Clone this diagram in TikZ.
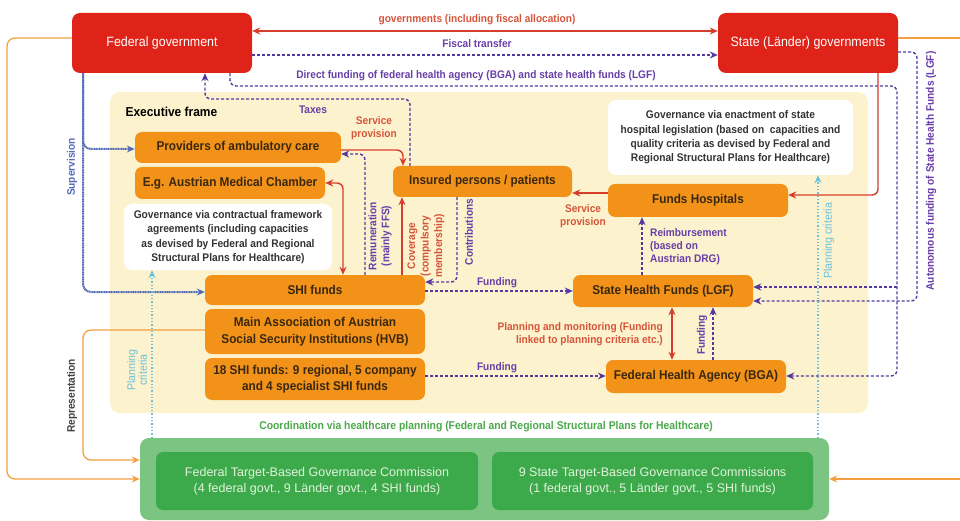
\documentclass[tikz,border=0pt]{standalone}
\usepackage{fontspec}
\setmainfont{Liberation Sans}[FakeStretch=0.92]
\newfontfamily\plainsans{Liberation Sans}
\usepackage{xcolor}
\usepackage{tikz}
\usetikzlibrary{arrows.meta}

\definecolor{govred}{RGB}{224,35,24}
\definecolor{boxorange}{RGB}{242,146,24}
\definecolor{boxtext}{RGB}{58,40,16}
\definecolor{framefill}{RGB}{252,243,206}
\definecolor{purp}{RGB}{84,58,160}
\definecolor{purptext}{RGB}{104,62,168}
\definecolor{redl}{RGB}{214,62,44}
\definecolor{redtext}{RGB}{214,84,58}
\definecolor{orangel}{RGB}{242,160,64}
\definecolor{supblue}{RGB}{84,108,184}
\definecolor{cyanl}{RGB}{108,192,220}
\definecolor{greenout}{RGB}{124,196,130}
\definecolor{greenin}{RGB}{60,170,74}
\definecolor{greentext}{RGB}{226,242,220}
\definecolor{greenlab}{RGB}{76,168,74}

\begin{document}
\begin{tikzpicture}[x=1pt,y=-1pt,>={Stealth[length=8pt,width=7pt]},
  govbox/.style={rounded corners=8pt,fill=govred,text=white,minimum width=180,minimum height=60,
    font=\fontsize{13.5}{15}\selectfont},
  box/.style={rounded corners=7pt,fill=boxorange,text=boxtext,inner sep=0pt,align=center,
    font=\bfseries\fontsize{12.8}{16.5}\selectfont},
  notebox/.style={rounded corners=8pt,fill=white,text=black!80,inner sep=0pt,align=center,
    font=\bfseries\fontsize{11.1}{14.3}\selectfont},
  commbox/.style={rounded corners=7pt,fill=greenin,text=greentext,inner sep=0pt,align=center,
    font=\plainsans\fontsize{12.5}{16}\selectfont},
  purpdash/.style={draw=purp,line width=1.4pt,dash pattern=on 3pt off 2pt,rounded corners=6pt},
  redline/.style={draw=redl,line width=1.4pt,rounded corners=6pt},
  orangeline/.style={draw=orangel,line width=1.3pt,rounded corners=8pt},
  supline/.style={draw=supblue,line width=2pt,dash pattern=on 1.2pt off 0.5pt,rounded corners=8pt},
  cyanline/.style={draw=cyanl,line width=1.3pt,dotted},
  purplab/.style={text=purptext,inner sep=1pt,align=center,font=\bfseries\fontsize{11}{13}\selectfont},
  redlab/.style={text=redtext,inner sep=1pt,align=center,font=\bfseries\fontsize{11}{13.5}\selectfont},
  cyanlab/.style={text=cyanl,inner sep=1pt,align=center,font=\fontsize{11.5}{10.5}\selectfont}]
\useasboundingbox (0,0) rectangle (960,521);

\node[fill=framefill,rounded corners=10pt,minimum width=758,minimum height=321] (EF) at (489,252.5) {};
\node[anchor=west,font=\bfseries\fontsize{13}{15}\selectfont] (EFL) at (122,112) {Executive frame};

\node[govbox] (FG) at (162,43) {Federal government};
\node[govbox] (SG) at (808,43) {State (Länder) governments};

\node[box,minimum width=206,minimum height=31] (PAC) at (238,147.5) {Providers of ambulatory care};
\node[box,minimum width=190,minimum height=32] (AMC) at (230,183) {E.g. Austrian Medical Chamber};
\node[notebox,minimum width=208,minimum height=66] (GCW) at (228,237)
  {Governance via contractual framework\\agreements (including capacities\\as devised by Federal and Regional\\Structural Plans for Healthcare)};
\node[box,minimum width=220,minimum height=30] (SHI) at (315,290) {SHI funds};
\node[box,minimum width=220,minimum height=45] (HVB) at (315,331.5) {Main Association of Austrian\\Social Security Institutions (HVB)};
\node[box,minimum width=220,minimum height=42] (SHIX) at (315,379) {18 SHI funds: 9 regional, 5 company\\and 4 specialist SHI funds};
\node[box,minimum width=179,minimum height=31] (INS) at (482.5,181.5) {Insured persons / patients};
\node[notebox,minimum width=245,minimum height=75] (GEL) at (730.5,137.5)
  {Governance via enactment of state\\hospital legislation (based on~ capacities and\\quality criteria as devised by Federal and\\Regional Structural Plans for Healthcare)};
\node[box,minimum width=180,minimum height=33] (FH) at (698,200.5) {Funds Hospitals};
\node[box,minimum width=180,minimum height=32] (LGF) at (663,291) {State Health Funds (LGF)};
\node[box,minimum width=180,minimum height=33] (BGA) at (696,376.5) {Federal Health Agency (BGA)};

\node[fill=greenout,rounded corners=9pt,minimum width=689,minimum height=82] (GO) at (484.5,479) {};
\node[commbox,minimum width=322,minimum height=58] (FTC) at (317,481)
  {Federal Target-Based Governance Commission\\(4 federal govt., 9 Länder govt., 4 SHI funds)};
\node[commbox,minimum width=321,minimum height=58] (STC) at (652.5,481)
  {9 State Target-Based Governance Commissions\\(1 federal govt., 5 Länder govt., 5 SHI funds)};
\node[text=greenlab,font=\bfseries\fontsize{11.3}{12}\selectfont] (CO) at (486,427)
  {Coordination via healthcare planning (Federal and Regional Structural Plans for Healthcare)};

\coordinate (J1) at (897,287);
\coordinate (RE1) at (960,38);
\coordinate (RE2) at (960,479);

% between the governments
\draw[redline,<->] (FG.east |- 0,31) -- (SG.west |- 0,31);
\node[redlab] (GFA) at (477,20) {governments (including fiscal allocation)};
\draw[purpdash,->] (FG.east |- 0,55) -- (SG.west |- 0,55);
\node[purplab] (FT) at (477,44) {Fiscal transfer};
\draw[purpdash,->] (FG.south -| 230,0) |- (897,86) |- (BGA.east |- 0,376);
\draw[purpdash,->] (J1) -- (LGF.east |- J1);
\node[purplab] (DF) at (476,76) {Direct funding of federal health agency (BGA) and state health funds (LGF)};
\draw[purpdash,->] (SG.east |- 0,52) -| (917,301) -- (LGF.east |- 0,301);
\node[purplab,rotate=90] (AF) at (931,171) {Autonomous funding of State Health Funds (LGF)};
\draw[redline,->] (SG.south -| 878,0) |- (FH.east |- 0,195);

% commissions
\draw[orangeline,->] (FG.west |- 0,38) -| (7,479) -- (GO.west |- 0,479);
\draw[orangeline] (SG.east |- 0,38) -- (RE1);
\draw[orangeline,->] (RE2) -- (GO.east |- RE2);
\draw[orangeline,->] (HVB.west |- 0,330) -| (83,460) -- (GO.west |- 0,460);
\node[text=black!75,inner sep=1pt,rotate=90,font=\bfseries\fontsize{11}{12}\selectfont] (REP) at (72,396) {Representation};

% supervision
\draw[supline,->] (FG.south -| 83,0) |- (PAC.west |- 0,149);
\draw[supline,->] (FG.south -| 83,0) |- (SHI.west |- 0,292);
\node[text=supblue,inner sep=1pt,rotate=90,font=\bfseries\fontsize{11}{12}\selectfont] (SUP) at (72,167) {Supervision};

% executive frame
\draw[purpdash,->] (INS.north -| 410,0) |- (205,99) -- (FG.south -| 205,0);
\node[purplab] (TX) at (313,110) {Taxes};
\draw[redline,->] (PAC.east |- 0,150) -| (INS.north -| 403,0);
\node[redlab] (SP1) at (374,128) {Service\\provision};
\draw[purpdash,->] (SHI.north -| 365,0) |- (PAC.east |- 0,154);
\node[purplab,rotate=90] (REM) at (380,236) {Remuneration\\(mainly FFS)};
\draw[redline,<->] (AMC.east |- 0,183) -| (SHI.north -| 343,0);
\draw[redline,->] (SHI.north -| 402,0) -- (INS.south -| 402,0);
\node[redlab,rotate=90] (COV) at (426,246) {Coverage\\(compulsory\\membership)};
\draw[purpdash,->] (INS.south -| 457,0) |- (SHI.east |- 0,282);
\node[purplab,rotate=90] (CON) at (469,232) {Contributions};
\draw[purpdash,->] (SHI.east |- 0,291) -- (LGF.west |- 0,291);
\node[purplab] (FU1) at (497,283) {Funding};
\draw[purpdash,->] (SHIX.east |- 0,376) -- (BGA.west |- 0,376);
\node[purplab] (FU2) at (497,368) {Funding};
\draw[redline,<->] (LGF.south -| 672,0) -- (BGA.north -| 672,0);
\node[redlab,anchor=east] (PM) at (664,334) {Planning and monitoring (Funding\\\hfill linked to planning criteria etc.)};
\draw[purpdash,->] (BGA.north -| 713,0) -- (LGF.south -| 713,0);
\node[purplab,rotate=90] (FU3) at (702,335) {Funding};
\draw[purpdash,->] (LGF.north -| 642,0) -- (FH.south -| 642,0);
\node[purplab,anchor=west,align=left] (RB) at (649,247) {Reimbursement\\(based on\\Austrian DRG)};
\draw[redline,->] (FH.west |- 0,193) -- (INS.east |- 0,193);
\node[redlab] (SP2) at (583,216) {Service\\provision};

% planning criteria
\draw[cyanline,->] (GO.north -| 152,0) -- (GCW.south -| 152,0);
\node[cyanlab,rotate=90] (PC1) at (137,370) {Planning\\criteria};
\draw[cyanline,->] (GO.north -| 818,0) -- (GEL.south -| 818,0);
\node[cyanlab,rotate=90] (PC2) at (829,241) {Planning criteria};
\end{tikzpicture}
\end{document}
